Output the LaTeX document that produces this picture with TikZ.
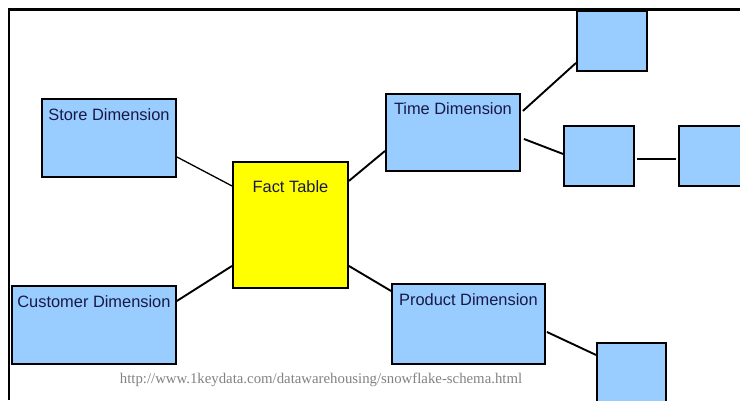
\documentclass[tikz,border=0pt]{standalone}
\usepackage{fontspec}
\setmainfont{Liberation Serif}
\setsansfont{Liberation Sans}
\usepackage{tikz}
\usetikzlibrary{calc}
\definecolor{dimblue}{RGB}{153,204,255}
\definecolor{facty}{RGB}{255,255,0}
\definecolor{dimtext}{RGB}{25,25,70}
\definecolor{urlgray}{RGB}{130,130,130}

\begin{document}
\begin{tikzpicture}[x=1pt, y=-1pt,
		dimbox/.style={draw=black, line width=1.9pt, fill=dimblue, anchor=north west, inner sep=0pt, minimum height=78pt},
		factbox/.style={dimbox, fill=facty},
		boxtext/.style={anchor=north, inner sep=0pt, text=dimtext, font=\sffamily\fontsize{16.4}{18}\selectfont},
		link/.style={line width=1.9pt}]
			%%%%% START %%%%%
			\useasboundingbox (0, 0) rectangle (740, 400);
			\clip (0, 0) rectangle (740, 400);
			\fill[white] (0, 0) rectangle (740, 400);
			
			\draw[line width=2.2pt] (9, 400) -- (9, 9.5) -- (741, 9.5);
			
			\node[dimbox, minimum width=134pt, label={[boxtext, yshift=-10pt]north:Store Dimension}] (store) at (41, 98) {};
			\node[factbox, minimum width=115pt, minimum height=126pt, label={[boxtext, yshift=-19pt]north:Fact Table}] (fact) at (232, 161) {};
			\node[dimbox, minimum width=164pt, label={[boxtext, yshift=-10pt]north:Customer Dimension}] (customer) at (11, 285) {};
			\node[dimbox, minimum width=134pt, minimum height=77pt, label={[boxtext, yshift=-9pt]north:Time Dimension}] (time) at (385, 93) {};
			\node[dimbox, minimum width=153pt, minimum height=80pt, label={[boxtext, yshift=-10pt]north:Product Dimension}] (product) at (391, 283) {};
			
			\node[dimbox, minimum width=70pt, minimum height=60pt] (timetop) at (576, 10) {};
			\node[dimbox, minimum width=70pt, minimum height=60pt] (timemid) at (563, 125) {};
			\node[dimbox, minimum width=70pt, minimum height=60pt] (timeright) at (678, 125) {};
			\node[dimbox, minimum width=69pt, minimum height=60pt] (productsub) at (596, 342) {};
			
			\draw[link, line width=1.3pt] ([yshift=-19pt]store.east) -- ([yshift=39pt]fact.west);
			\draw[link] ([yshift=24pt]customer.east) -- ([yshift=-41pt]fact.west);
			\draw[link] ([yshift=44pt]fact.east) -- ([yshift=-18.5pt]time.west);
			\draw[link] ([yshift=-41pt]fact.east) -- ([yshift=33pt]product.west);
			\draw[link] ([xshift=2pt, yshift=21.5pt]time.east) -- ([yshift=-22pt]timetop.west);
			\draw[link] ([xshift=3pt, yshift=-6.5pt]time.east) -- ([yshift=2pt]timemid.west);
			\draw[link] ([xshift=2pt, yshift=-3pt]timemid.east) -- ([xshift=-2pt, yshift=-3pt]timeright.west);
			\draw[link] ([xshift=1pt, yshift=-8pt]product.east) -- ([yshift=18pt]productsub.west);
			
			\node[text=urlgray, font=\rmfamily\fontsize{14.8}{16}\selectfont, inner sep=0pt] (url) at (321, 380) {http://www.1keydata.com/datawarehousing/snowflake-schema.html};
			%%%%% END %%%%%
		\end{tikzpicture}
\end{document}
